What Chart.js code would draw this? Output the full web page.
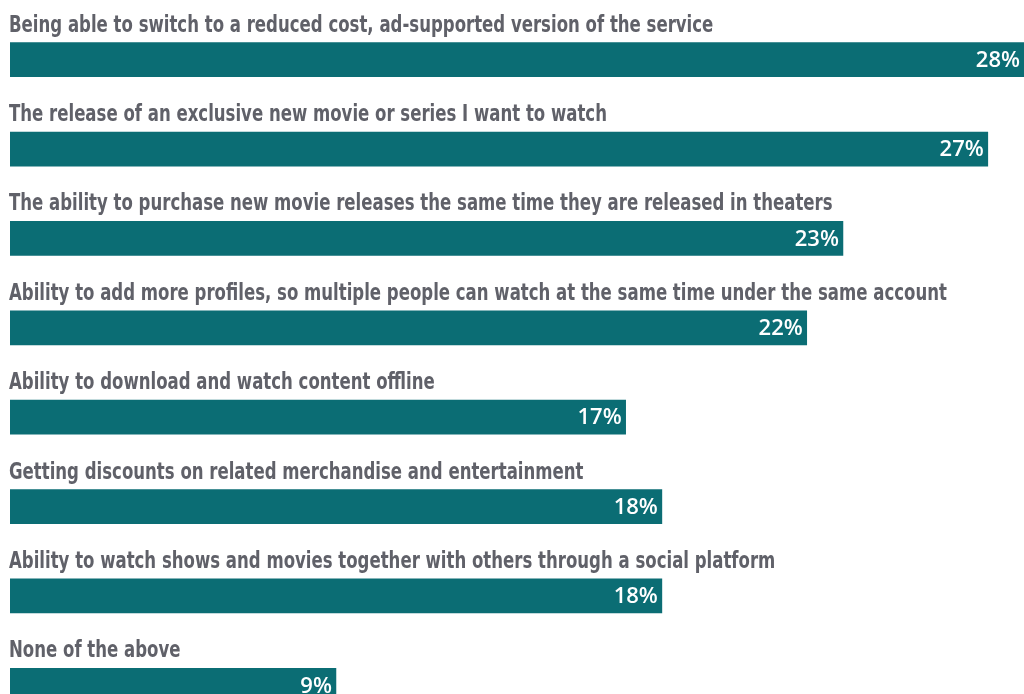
<!DOCTYPE html>
<html>
<head>
<meta charset="utf-8">
<script src="https://cdn.jsdelivr.net/npm/chart.js@4"></script>
<style>
  html, body { margin: 0; padding: 0; background: #fff; overflow: hidden; }
  #wrap { width: 1024px; height: 730px; }
</style>
</head>
<body>
<div id="wrap"><canvas id="myChart"></canvas></div>
<script>
var categories = [
    "Being able to switch to a reduced cost, ad-supported version of the service",
    "The release of an exclusive new movie or series I want to watch",
    "The ability to purchase new movie releases the same time they are released in theaters",
    "Ability to add more profiles, so multiple people can watch at the same time under the same account",
    "Ability to download and watch content offline",
    "Getting discounts on related merchandise and entertainment",
    "Ability to watch shows and movies together with others through a social platform",
    "None of the above"
];
var values = [28, 27, 23, 22, 17, 18, 18, 9];

// texte au-dessus de chaque barre + valeur dans la barre
var barText = {
    id: "barText",
    afterDatasetsDraw: function (chart) {
        var ctx = chart.ctx;
        var meta = chart.getDatasetMeta(0);
        var squeeze = 0.80; // police condensée
        meta.data.forEach(function (bar, i) {
            ctx.save();
            ctx.fillStyle = "#606169";
            ctx.font = "bold 23px 'DejaVu Sans Condensed', 'DejaVu Sans', sans-serif";
            ctx.textAlign = "left";
            ctx.textBaseline = "alphabetic";
            ctx.translate(chart.chartArea.left - 1, bar.y - 28);
            ctx.scale(squeeze, 1);
            ctx.fillText(categories[i], 0, 0);
            ctx.restore();

            ctx.save();
            ctx.fillStyle = "#ffffff";
            ctx.font = "600 22px 'Open Sans', sans-serif";
            ctx.textAlign = "right";
            ctx.textBaseline = "middle";
            ctx.fillText(values[i] + "%", bar.x - 4, bar.y + 1);
            ctx.restore();
        });
    }
};

document.addEventListener("DOMContentLoaded", function () {
    var ctx = document.getElementById("myChart").getContext("2d");
    var myChart = new Chart(ctx, {
        type: "bar",
        data: {
            labels: categories,
            datasets: [{
                data: values,
                backgroundColor: "#0b6d74",
                barThickness: 34,
            }],
        },
        options: {
            indexAxis: "y",
            responsive: true,
            maintainAspectRatio: false,
            animation: false,
            layout: { padding: { top: 15, left: 10, right: 0, bottom: 0 } },
            plugins: {
                legend: { display: false },
                tooltip: { enabled: false },
            },
            scales: {
                x: { display: false, min: 0, max: 28 },
                y: { display: false },
            },
        },
        plugins: [barText],
    });
});
</script>
</body>
</html>
